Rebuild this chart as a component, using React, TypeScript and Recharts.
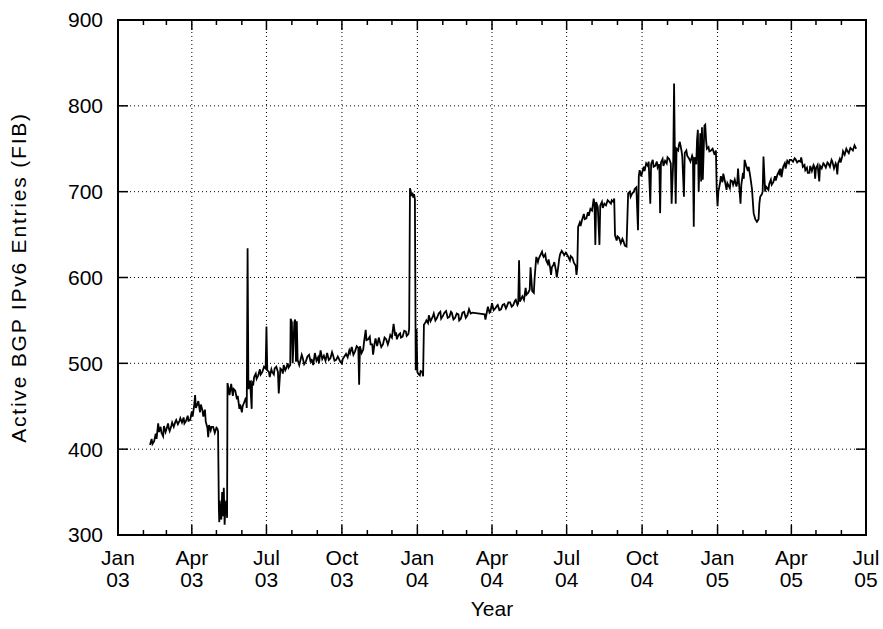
import React from 'react'
import {
    LineChart,
    Line,
    XAxis,
    YAxis,
    CartesianGrid,
    ReferenceLine,
    ReferenceArea,
} from 'recharts'

// Active FIB entries, [days since 1 Jan 2003, entries]
const fib2003: [number, number][] = [
    [39, 405], [41, 412], [42, 406], [44, 409], [46, 418], [47, 412], [49, 430], [50, 420], [52, 426], [53, 419],
    [55, 415], [56, 427], [58, 420], [59, 423], [61, 430], [62, 424], [63, 421], [65, 427], [66, 431], [68, 426],
    [70, 432], [71, 434], [73, 429], [75, 433], [76, 436], [78, 431], [80, 437], [81, 430], [83, 433], [85, 439],
    [86, 433], [88, 434], [90, 444], [91, 438], [93, 452], [94, 463], [95, 448], [97, 453], [98, 456], [100, 443],
    [101, 452], [103, 445], [104, 438], [106, 446], [107, 432], [109, 425], [110, 414], [111, 428], [113, 422],
    [114, 426], [116, 426], [118, 419], [120, 425], [121, 424], [122, 421],
    [123, 330], [123.5, 315], [124, 340], [125, 326], [126, 318], [127, 350], [128, 322], [129, 355], [130, 312],
    [131, 335], [132, 340], [133, 320], [133.5, 477],
    [135, 470], [136, 463], [138, 476], [140, 462], [141, 470], [143, 468], [145, 458], [146, 462], [148, 447],
    [149, 452], [151, 443], [152, 450], [154, 455], [156, 460], [157, 448], [158, 634], [159, 470], [161, 480],
    [163, 447], [163.5, 478], [165, 476], [166, 484], [168, 488], [169, 482], [171, 486], [173, 493], [174, 487],
    [176, 490], [178, 496], [180, 494], [181, 543], [182, 492], [184, 490], [185, 484], [187, 493], [188, 490],
    [190, 487], [191, 494], [193, 496], [195, 490], [196, 465], [198, 494], [200, 492], [201, 488], [202, 498],
    [204, 492], [205, 494], [207, 500], [208, 495], [210, 498], [210.5, 552], [212, 548], [213, 500], [215, 548],
    [216, 551], [217, 502], [218, 549], [219, 504],
    [221, 498], [222, 502], [224, 510], [225, 507], [227, 499], [229, 502], [231, 508], [233, 510], [235, 501],
    [236, 505], [238, 498], [240, 512], [242, 503], [244, 507], [245, 500], [247, 515], [249, 505], [251, 509],
    [253, 503], [255, 512], [257, 504], [259, 506], [261, 513], [262, 510], [264, 503], [266, 504], [268, 508],
    [271, 502], [273, 500], [274, 505], [276, 508], [278, 511], [280, 507], [282, 515], [283, 512], [285, 519],
    [287, 510], [289, 514], [291, 520], [293, 518], [294, 475], [295, 520], [297, 512], [299, 516], [300, 525],
    [302, 539], [303, 527], [305, 528], [307, 531], [308, 522], [310, 522], [311, 510], [313, 524], [314, 529],
    [316, 520], [318, 530], [319, 526], [321, 519], [323, 522], [325, 530], [327, 528], [329, 522], [330, 525],
    [332, 533], [334, 530], [336, 546], [338, 532], [339, 536], [340, 528], [342, 533], [344, 535], [345, 530],
    [347, 531], [349, 538], [351, 537], [352, 532], [354, 534], [355, 540], [356, 704], [357, 700], [358, 695],
    [359, 699], [360, 693], [361, 697], [362, 691], [363, 492],
]

const fib2004: [number, number][] = [
    [364, 540], [365, 490], [366, 488], [368, 486], [369, 491], [371, 490], [372, 485], [373, 545], [375, 548],
    [376, 550], [378, 547], [379, 556], [381, 549], [382, 551], [384, 555], [385, 558], [387, 550], [389, 553],
    [391, 558], [393, 560], [394, 552], [396, 555], [398, 559], [400, 561], [402, 553], [404, 554], [406, 560],
    [407, 559], [409, 551], [411, 553], [413, 558], [415, 557], [416, 550], [418, 552], [420, 559], [422, 560],
    [424, 553], [426, 556], [428, 563], [430, 558], [432, 559], [447, 557], [448, 551], [450, 561], [451, 566],
    [453, 559], [454, 560], [456, 570], [458, 562], [460, 564], [462, 567], [463, 568], [465, 562], [467, 563],
    [469, 568], [471, 569], [473, 564], [474, 566], [476, 571], [478, 571], [480, 566], [482, 568], [484, 573],
    [485, 574], [487, 568], [488, 570], [489, 620], [490, 572], [492, 576], [493, 578], [495, 574], [497, 588],
    [498, 580], [500, 582], [502, 586], [503, 612], [505, 584], [507, 582], [508, 600], [510, 624], [512, 618],
    [513, 622], [515, 626], [517, 630], [518, 626], [519, 624], [521, 627], [522, 620], [524, 616], [525, 621],
    [527, 611], [528, 603], [529, 612], [531, 615], [532, 618], [534, 608], [535, 600], [537, 614], [538, 622],
    [539, 627], [541, 631], [543, 628], [544, 626], [546, 629], [548, 626], [549, 624], [551, 620], [552, 625],
    [554, 623], [556, 617], [558, 614], [559, 603], [560, 612], [561, 659], [563, 664], [564, 660], [566, 668],
    [568, 674], [569, 668], [571, 669], [573, 676], [574, 672], [576, 680], [578, 678], [580, 692], [581, 685],
    [582, 638], [583, 688], [585, 682], [587, 638], [588, 684], [590, 688], [591, 681], [593, 686], [595, 684],
    [597, 690], [599, 688], [601, 686], [602, 690], [604, 688], [605, 692], [606, 649], [608, 643], [609, 648],
    [611, 646], [613, 640], [615, 645], [616, 643], [618, 637], [620, 636], [622, 698], [624, 700], [625, 694],
    [627, 698], [629, 700], [630, 703], [632, 705], [634, 655], [635, 718], [636, 725], [638, 718], [639, 722],
    [641, 729], [642, 724], [644, 733], [646, 730], [647, 735], [649, 686], [650, 732], [652, 737], [653, 729],
    [655, 730], [657, 735], [658, 728], [660, 732], [661, 675], [662, 734], [664, 738], [665, 730], [667, 736],
    [669, 733], [670, 740], [672, 738], [674, 733], [675, 686], [677, 737], [678, 826], [679, 740], [680, 686],
    [681, 750], [683, 748], [684, 755], [685, 758], [687, 748], [688, 741], [690, 694], [691, 745], [693, 748],
    [694, 742], [696, 739], [698, 735], [700, 742], [701, 739], [702, 659], [703, 740], [705, 732], [706, 760],
    [707, 772], [708, 700], [710, 768], [711, 712], [712, 775], [713, 714], [715, 777], [716, 778], [717, 760],
    [718, 750], [720, 752], [721, 747], [723, 748], [725, 750], [727, 744], [728, 745], [729, 748], [730, 702],
]

const fib2005: [number, number][] = [
    [731, 683], [732, 700], [734, 710], [735, 718], [737, 711], [738, 721], [740, 712], [742, 702], [743, 710],
    [744, 708], [746, 704], [747, 713], [749, 712], [750, 708], [752, 714], [754, 706], [755, 710], [756, 727],
    [757, 712], [759, 686], [760, 708], [762, 722], [763, 715], [764, 737], [766, 730], [768, 724], [769, 729],
    [771, 717], [773, 703], [775, 675], [777, 668], [779, 665], [781, 668], [782, 686], [783, 694], [785, 697],
    [786, 700], [787, 741], [789, 700], [790, 706], [791, 705], [793, 702], [794, 709], [796, 714], [797, 708],
    [799, 711], [801, 718], [802, 713], [804, 720], [806, 724], [807, 719], [808, 727], [809, 717], [811, 729],
    [813, 733], [814, 727], [816, 736], [818, 733], [819, 737], [821, 737], [823, 735], [825, 739], [826, 738],
    [828, 734], [830, 736], [832, 735], [833, 740], [835, 729], [837, 731], [838, 725], [840, 728], [841, 722],
    [843, 722], [844, 730], [846, 724], [848, 731], [849, 729], [850, 715], [851, 727], [853, 731], [855, 712],
    [856, 730], [858, 727], [860, 733], [861, 732], [863, 728], [865, 734], [866, 733], [868, 729], [870, 737],
    [871, 735], [873, 727], [875, 733], [876, 730], [877, 720], [878, 733], [880, 738], [881, 734], [883, 741],
    [884, 747], [886, 743], [888, 750], [889, 748], [891, 745], [893, 751], [894, 750], [896, 748], [898, 754],
    [900, 750],
]

// quarter starts (labelled) and month starts (minor ticks), in days since 1 Jan 2003
const quarterDays = [0, 90, 181, 273, 365, 456, 547, 639, 731, 821, 912]
const quarterMonths = ['Jan', 'Apr', 'Jul', 'Oct', 'Jan', 'Apr', 'Jul', 'Oct', 'Jan', 'Apr', 'Jul']
const quarterYears = ['03', '03', '03', '03', '04', '04', '04', '04', '05', '05', '05']
const monthDays = [
    31, 59, 120, 151, 212, 243, 304, 334,
    396, 425, 486, 517, 578, 609, 670, 700,
    762, 790, 851, 882,
]
const yTicks = [300, 400, 500, 600, 700, 800, 900]

const data = [...fib2003, ...fib2004, ...fib2005].map(([day, fib]) => ({ day, fib }))

const FONT = '"Liberation Sans", Arial, Helvetica, sans-serif'
const FS = 21
const X_MIN = 0
const X_MAX = 912
const Y_MIN = 300
const Y_MAX = 900
// inward tick lengths expressed in data units (plot is 748 x 515 px)
const MAJOR_Y = (10 * 600) / 515
const MINOR_Y = (5 * 600) / 515
const MAJOR_X = (10 * 912) / 748

const QuarterTick = ({ x, y, payload }: any) => {
    const i = quarterDays.indexOf(payload.value)
    if (i < 0) return null
    return (
        <text x={x} y={y} textAnchor="middle" fontFamily={FONT} fontSize={FS} fill="#000">
            <tspan x={x} dy={30}>{quarterMonths[i]}</tspan>
            <tspan x={x} dy={22}>{quarterYears[i]}</tspan>
        </text>
    )
}

export default function App() {
    return (
        <div style={{ position: 'absolute', left: 0, top: 0, background: '#fff' }}>
            <LineChart
                width={883}
                height={629}
                data={data}
                margin={{ top: 20, right: 17, bottom: 0, left: 0 }}
            >
                <CartesianGrid stroke="#000" strokeDasharray="1 3" strokeWidth={1} />
                <XAxis
                    dataKey="day"
                    type="number"
                    domain={[X_MIN, X_MAX]}
                    ticks={quarterDays}
                    interval={0}
                    height={94}
                    tickSize={0}
                    tickMargin={0}
                    tickLine={false}
                    axisLine={false}
                    tick={<QuarterTick />}
                    label={{
                        content: ({ viewBox }: any) => (
                            <text
                                x={viewBox.x + viewBox.width / 2}
                                y={viewBox.y + 81}
                                textAnchor="middle"
                                fontFamily={FONT}
                                fontSize={FS}
                                fill="#000"
                            >
                                Year
                            </text>
                        ),
                    }}
                />
                <YAxis
                    type="number"
                    domain={[Y_MIN, Y_MAX]}
                    ticks={yTicks}
                    width={118}
                    tickSize={0}
                    tickMargin={15}
                    tickLine={false}
                    axisLine={false}
                    tick={{ fontFamily: FONT, fontSize: FS, fill: '#000' }}
                    label={{
                        content: ({ viewBox }: any) => {
                            const cx = viewBox.x + 26
                            const cy = viewBox.y + viewBox.height / 2
                            return (
                                <text
                                    x={cx}
                                    y={cy}
                                    transform={`rotate(-90 ${cx} ${cy})`}
                                    textAnchor="middle"
                                    fontFamily={FONT}
                                    fontSize={FS}
                                    letterSpacing={1.8}
                                    fill="#000"
                                >
                                    Active BGP IPv6 Entries (FIB)
                                </text>
                            )
                        },
                    }}
                />
                <Line
                    type="linear"
                    dataKey="fib"
                    stroke="#000"
                    strokeWidth={1.8}
                    dot={false}
                    isAnimationActive={false}
                />
                {quarterDays.map(d => (
                    <ReferenceLine key={`qb${d}`} segment={[{ x: d, y: Y_MIN }, { x: d, y: Y_MIN + MAJOR_Y }]} stroke="#000" strokeWidth={1.5} />
                ))}
                {quarterDays.map(d => (
                    <ReferenceLine key={`qt${d}`} segment={[{ x: d, y: Y_MAX }, { x: d, y: Y_MAX - MAJOR_Y }]} stroke="#000" strokeWidth={1.5} />
                ))}
                {monthDays.map(d => (
                    <ReferenceLine key={`mb${d}`} segment={[{ x: d, y: Y_MIN }, { x: d, y: Y_MIN + MINOR_Y }]} stroke="#000" strokeWidth={1.5} />
                ))}
                {monthDays.map(d => (
                    <ReferenceLine key={`mt${d}`} segment={[{ x: d, y: Y_MAX }, { x: d, y: Y_MAX - MINOR_Y }]} stroke="#000" strokeWidth={1.5} />
                ))}
                {yTicks.map(v => (
                    <ReferenceLine key={`yl${v}`} segment={[{ x: X_MIN, y: v }, { x: X_MIN + MAJOR_X, y: v }]} stroke="#000" strokeWidth={1.5} />
                ))}
                {yTicks.map(v => (
                    <ReferenceLine key={`yr${v}`} segment={[{ x: X_MAX, y: v }, { x: X_MAX - MAJOR_X, y: v }]} stroke="#000" strokeWidth={1.5} />
                ))}
                <ReferenceArea
                    x1={X_MIN}
                    x2={X_MAX}
                    y1={Y_MIN}
                    y2={Y_MAX}
                    fill="none"
                    fillOpacity={0}
                    stroke="#000"
                    strokeWidth={2}
                />
            </LineChart>
        </div>
    )
}
